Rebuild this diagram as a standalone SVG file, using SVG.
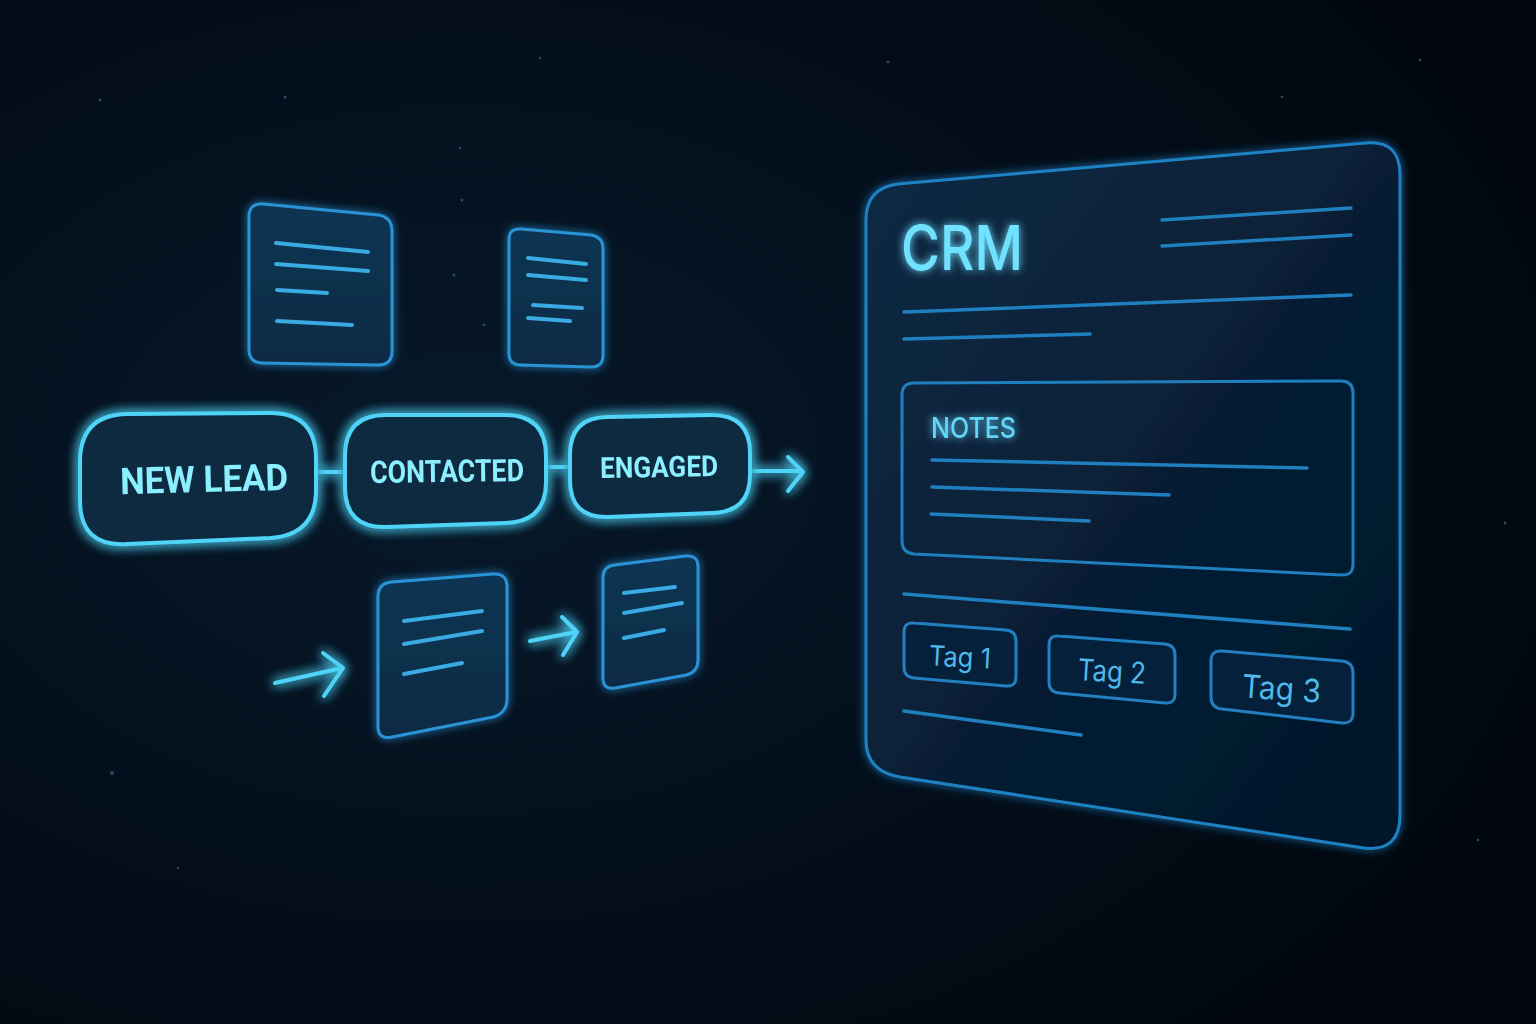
<svg xmlns="http://www.w3.org/2000/svg" width="1536" height="1024" viewBox="0 0 1536 1024">
<defs>
<radialGradient id="bg" cx="0.3" cy="0.45" r="0.8">
<stop offset="0" stop-color="#07192a"/>
<stop offset="0.5" stop-color="#040f1c"/>
<stop offset="1" stop-color="#01060d"/>
</radialGradient>
<linearGradient id="panelFill" x1="0" y1="0" x2="1" y2="1">
<stop offset="0" stop-color="#0a2a45"/>
<stop offset="0.6" stop-color="#061d33"/>
<stop offset="1" stop-color="#041628"/>
</linearGradient>
<linearGradient id="docFill" x1="0" y1="0" x2="0" y2="1">
<stop offset="0" stop-color="#0d3553"/>
<stop offset="1" stop-color="#0a2b45"/>
</linearGradient>
<filter id="glow" x="-30%" y="-30%" width="160%" height="160%">
<feGaussianBlur in="SourceGraphic" stdDeviation="6" result="b"/>
<feMerge><feMergeNode in="b"/><feMergeNode in="b"/><feMergeNode in="SourceGraphic"/></feMerge>
</filter>
<filter id="softglow" x="-20%" y="-20%" width="140%" height="140%">
<feGaussianBlur in="SourceGraphic" stdDeviation="4" result="b"/>
<feMerge><feMergeNode in="b"/><feMergeNode in="SourceGraphic"/></feMerge>
</filter>
<style>
.pill{fill:#0a2a40;stroke:#4fd3f7;stroke-width:4;}
.ptext{font-family:Roboto,"Liberation Sans",sans-serif;font-weight:700;fill:#8cefff;}
.doc{fill:url(#docFill);stroke:#2c93d6;stroke-width:3;}
.dline{stroke:#3aaae3;stroke-width:4;stroke-linecap:round;fill:none;}
.conn{stroke:#4fd3f7;stroke-width:4;stroke-linecap:round;stroke-linejoin:round;fill:none;}
.panel{fill:url(#panelFill);stroke:#1f82c4;stroke-width:3;}
.pline{stroke:#1f7fbf;stroke-width:3.5;stroke-linecap:round;fill:none;}
.box{fill:none;stroke:#1f7fbf;stroke-width:3;}
.tag{fill:#05203a;stroke:#2280c0;stroke-width:3;}
.tagtext{font-family:Inter,"Liberation Sans",sans-serif;font-weight:400;fill:#4fb9ec;}
.star{fill:#2a4a66;}
</style>
</defs>
<rect width="1536" height="1024" fill="url(#bg)"/>
<g id="stars">
<circle class="star" cx="100" cy="100" r="1.5"/>
<circle class="star" cx="285" cy="97" r="1.5"/>
<circle class="star" cx="540" cy="58" r="1.3"/>
<circle class="star" cx="888" cy="62" r="1.5"/>
<circle class="star" cx="1282" cy="97" r="1.3"/>
<circle class="star" cx="1505" cy="523" r="1.5"/>
<circle class="star" cx="112" cy="773" r="2" fill="#3a7ab0"/>
<circle class="star" cx="460" cy="148" r="1.3"/>
<circle class="star" cx="462" cy="200" r="1.5"/>
<circle class="star" cx="454" cy="275" r="1.5"/>
<circle class="star" cx="484" cy="325" r="1.3"/>
<circle class="star" cx="1478" cy="840" r="1.3"/>
<circle class="star" cx="178" cy="868" r="1.3"/>
<circle class="star" cx="1420" cy="60" r="1.3"/>
</g>

<g id="crm-panel">
<path class="panel" filter="url(#softglow)" d="M 866,220 Q 866,188 898,184 L 1366,143 Q 1400,140 1400,175 L 1400,815 Q 1400,852 1364,848 L 900,777 Q 866,771 866,740 Z"/>
<text x="901" y="270" font-family="Inter,'Liberation Sans',sans-serif" font-size="62" font-weight="500" fill="#6fe2ff" textLength="122" lengthAdjust="spacingAndGlyphs" filter="url(#softglow)">CRM</text>
<path class="pline" d="M1162,220 L1351,208"/>
<path class="pline" d="M1162,246 L1351,235"/>
<path class="pline" d="M904,312 L1351,295"/>
<path class="pline" d="M904,339 L1090,334"/>
<g id="notes">
<path class="box" d="M 902,395 Q 902,383 914,383 L 1341,381 Q 1353,381 1353,393 L 1353,564 Q 1353,576 1341,575 L 914,554 Q 902,553 902,541 Z"/>
<text x="931" y="438" font-family="Inter,'Liberation Sans',sans-serif" font-size="28" font-weight="500" fill="#62d6f8" textLength="85" lengthAdjust="spacingAndGlyphs" filter="url(#softglow)">NOTES</text>
<path class="pline" d="M932,460 L1307,468"/>
<path class="pline" d="M932,487 L1169,495"/>
<path class="pline" d="M931,514 L1089,521"/>
</g>
<path class="pline" d="M904,594 L1350,629"/>
<g id="tag1">
<path class="tag" d="M 904,632 Q 904,622 914,623 L 1006,630 Q 1016,631 1016,641 L 1016,677 Q 1016,687 1006,686 L 914,678 Q 904,677 904,667 Z"/>
<text x="929" y="667" class="tagtext" font-size="28" textLength="62" lengthAdjust="spacingAndGlyphs" transform="rotate(3 960 657)">Tag 1</text>
</g>
<g id="tag2">
<path class="tag" d="M 1049,645 Q 1049,635 1059,636 L 1165,644 Q 1175,645 1175,655 L 1175,694 Q 1175,704 1165,703 L 1059,693 Q 1049,692 1049,682 Z"/>
<text x="1078" y="682" class="tagtext" font-size="30" textLength="68" lengthAdjust="spacingAndGlyphs" transform="rotate(3.5 1112 670)">Tag 2</text>
</g>
<g id="tag3">
<path class="tag" d="M 1211,661 Q 1211,650 1222,651 L 1342,661 Q 1353,662 1353,673 L 1353,713 Q 1353,724 1342,723 L 1222,709 Q 1211,708 1211,697 Z"/>
<text x="1242" y="700" class="tagtext" font-size="32" textLength="79" lengthAdjust="spacingAndGlyphs" transform="rotate(4 1281 688)">Tag 3</text>
</g>
<path class="pline" d="M904,711 L1081,735"/>
</g>

<g id="doc1">
<path class="doc" filter="url(#softglow)" d="M 249,217 Q 249,203 263,204 L 378,215 Q 392,217 392,231 L 392,351 Q 392,365 378,365 L 263,363 Q 249,363 249,349 Z"/>
<path class="dline" d="M276,243 L368,252 M276,264 L368,271 M277,290 L327,293 M277,321 L352,325"/>
</g>
<g id="doc2">
<path class="doc" filter="url(#softglow)" d="M 509,240 Q 509,228 521,229 L 591,235 Q 603,237 603,249 L 603,355 Q 603,367 591,367 L 521,365 Q 509,365 509,353 Z"/>
<path class="dline" d="M528,258 L586,264 M528,275 L586,280 M533,305 L582,308 M528,318 L570,321"/>
</g>
<g id="doc3">
<path class="doc" filter="url(#softglow)" d="M 378,597 Q 378,583 392,582 L 493,574 Q 507,573 507,587 L 507,699 Q 507,713 493,717 L 392,737 Q 378,740 378,726 Z"/>
<path class="dline" d="M404,621 L482,611 M404,644 L482,631 M404,674 L462,663"/>
</g>
<g id="doc4">
<path class="doc" filter="url(#softglow)" d="M 603,578 Q 603,566 615,565 L 686,556 Q 698,555 698,567 L 698,660 Q 698,672 686,675 L 615,688 Q 603,690 603,678 Z"/>
<path class="dline" d="M624,593 L675,587 M624,613 L682,603 M624,638 L664,630"/>
</g>

<g id="connectors" filter="url(#glow)">
<path class="conn" d="M316,472 L345,472"/>
<path class="conn" d="M546,467 L570,467"/>
<path class="conn" d="M750,471 L802,471 M788,457 L803,472 L788,491"/>
<path class="conn" d="M275,683 L342,668 M323,653 L343,668 L324,696"/>
<path class="conn" d="M530,641 L576,632 M562,617 L577,632 L563,655"/>
</g>

<g id="new-lead" filter="url(#glow)">
<path class="pill" d="M 80,462 Q 80,415 127,414 L 270,413 Q 316,413 316,459 L 316,490 Q 316,535 270,538 L 127,544 Q 80,547 80,500 Z"/>
<text x="120" y="492" class="ptext" font-size="37" textLength="168" lengthAdjust="spacingAndGlyphs" transform="rotate(-1.5 204 478)">NEW LEAD</text>
</g>
<g id="contacted" filter="url(#glow)">
<path class="pill" d="M 345,456 Q 345,415 386,415 L 505,415 Q 546,415 546,456 L 546,482 Q 546,522 505,523 L 386,527 Q 345,528 345,487 Z"/>
<text x="370" y="482" class="ptext" font-size="31" textLength="154" lengthAdjust="spacingAndGlyphs" transform="rotate(-0.8 447 470)">CONTACTED</text>
</g>
<g id="engaged" filter="url(#glow)">
<path class="pill" d="M 570,455 Q 570,417 608,417 L 712,415 Q 750,415 750,453 L 750,475 Q 750,512 712,513 L 608,517 Q 570,518 570,480 Z"/>
<text x="600" y="477" class="ptext" font-size="29" textLength="118" lengthAdjust="spacingAndGlyphs" transform="rotate(-1 659 466)">ENGAGED</text>
</g>
</svg>
